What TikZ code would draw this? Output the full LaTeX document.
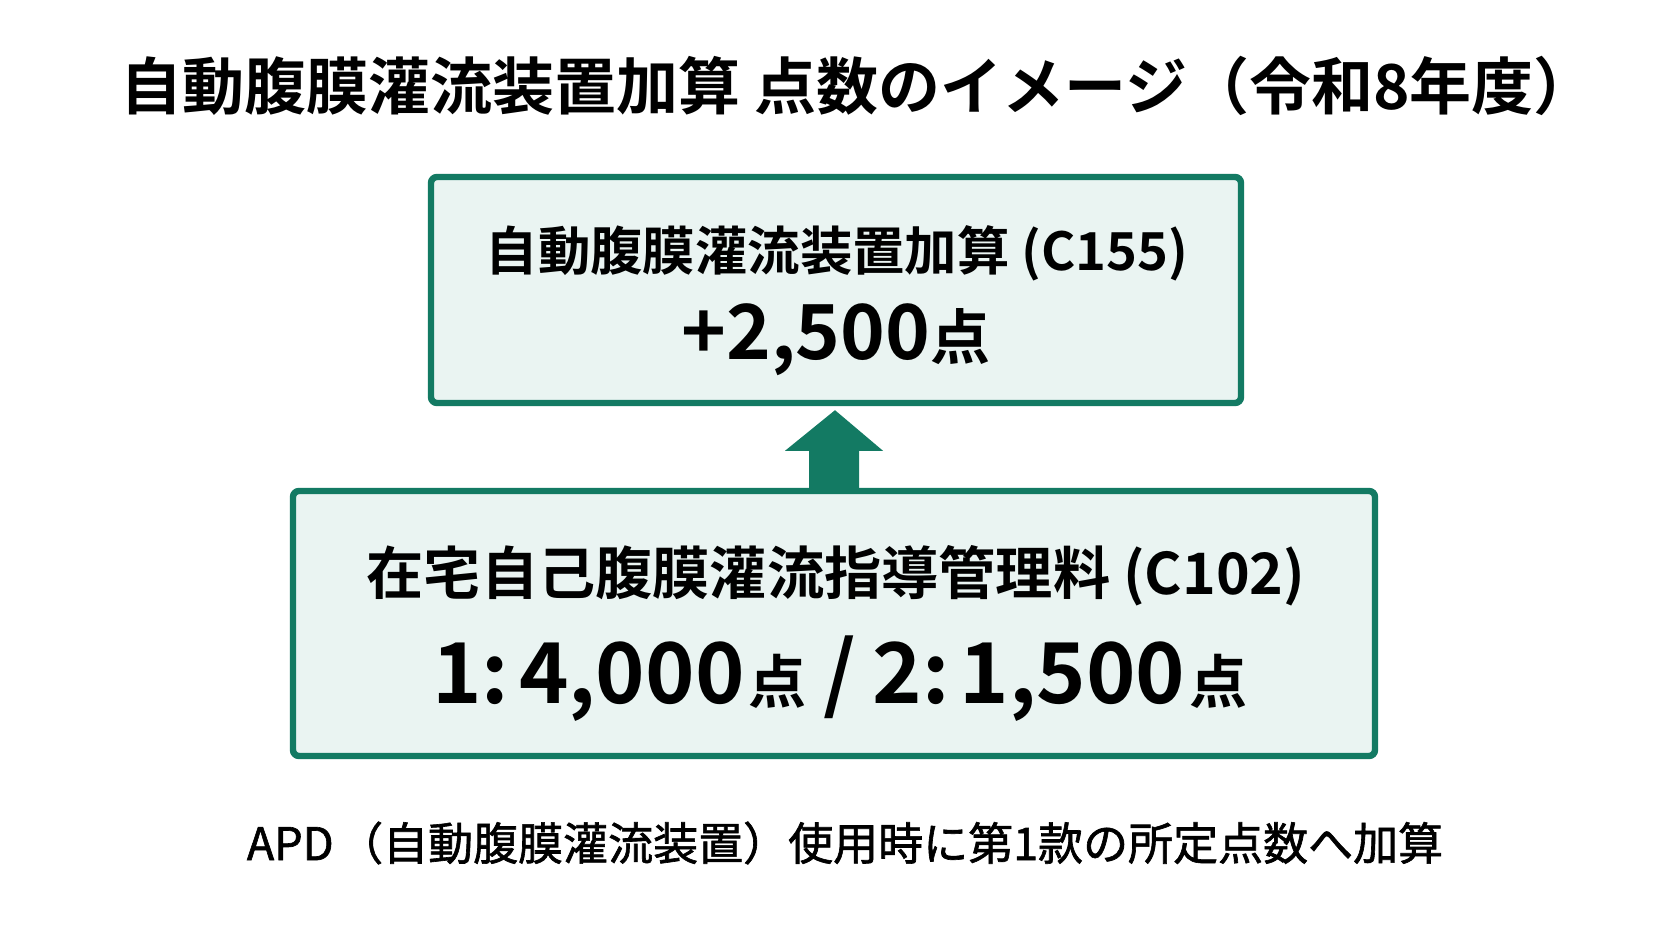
\documentclass[tikz,border=0pt]{standalone}
\usepackage{fontspec}
\setmainfont{Noto Sans CJK JP}[BoldFont={Noto Sans CJK JP Bold}]
\newfontfamily\jpb{Noto Sans CJK JP Bold}
\newfontfamily\jpm{Noto Sans CJK JP}[FakeBold=1.4]
\usetikzlibrary{calc}
\definecolor{boxgreen}{HTML}{137A63}
\definecolor{boxfill}{HTML}{EAF4F2}
\tikzset{
  pbox/.style={draw=boxgreen, fill=boxfill, line width=3.2pt, rounded corners=3pt, inner sep=0pt},
  txt/.style={inner sep=0pt, text=black},
}
\begin{document}
\begin{tikzpicture}[x=0.5pt,y=-0.5pt]
\useasboundingbox[fill=white] (0,0) rectangle (1672,941);
% title
\node[txt] (title) at (858,86) {\jpb\fontsize{31pt}{36pt}\selectfont 自動腹膜灌流装置加算 点数のイメージ（令和8年度）};
% boxes
\node[pbox, minimum width=405pt, minimum height=113pt] (top) at (836,290) {};
\node[pbox, minimum width=541pt, minimum height=132.5pt] (bot) at (834,623.5) {};
% texts
\node[txt] (t1) at (837,253) {\jpb\fontsize{26.2pt}{30pt}\selectfont 自動腹膜灌流装置加算 (C155)};
\node[txt] (t2) at (836,340) {\jpb\fontsize{38pt}{40pt}\selectfont +2,500{\fontsize{30pt}{30pt}\selectfont 点}};
\node[txt] (b1) at (836,576) {\jpb\fontsize{28.6pt}{34pt}\selectfont 在宅自己腹膜灌流指導管理料 (C102)};
\node[txt] (b2) at (840,679) {\jpb\fontsize{42pt}{48pt}\selectfont 1:\hspace{0.12em}4,000\hspace{0.05em}{\fontsize{29pt}{32pt}\selectfont 点}\hspace{0.2em}/\hspace{0.2em}2:\hspace{0.12em}1,500\hspace{0.05em}{\fontsize{29pt}{32pt}\selectfont 点}};
\node[txt] (foot) at (845,843) {\jpm\fontsize{22.5pt}{26pt}\selectfont APD\hspace{0.1em}（自動腹膜灌流装置）使用時に第1款の所定点数へ加算};
% arrow
\fill[boxgreen] ($(bot.north)+(-25,3)$) -- ($(bot.north)+(-25,-37)$) -- ($(bot.north)+(-49,-37)$)
  -- ($(top.south)+(-1,4)$) -- ($(bot.north)+(49,-37)$) -- ($(bot.north)+(25,-37)$) -- ($(bot.north)+(25,3)$) -- cycle;
\end{tikzpicture}
\end{document}
